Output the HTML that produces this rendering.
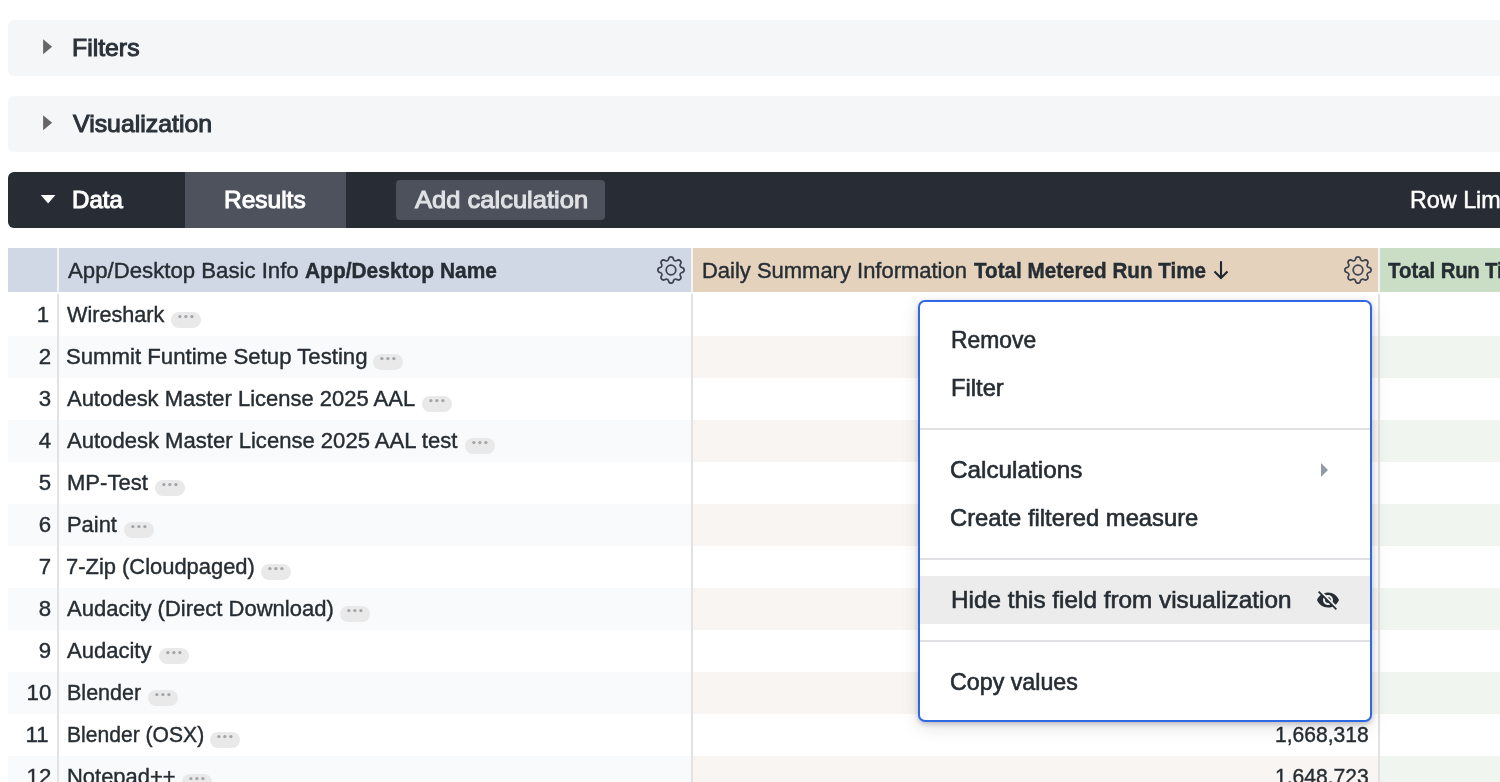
<!DOCTYPE html><html lang="en"><head><meta charset="utf-8"><title>Explore</title><style>
*{box-sizing:border-box;margin:0;padding:0}
html,body{width:1500px;height:782px;overflow:hidden;background:#fff}
#hsep{position:absolute;left:8px;top:248px;width:1492px;height:44px;background:#f4f4f5}
body{font-family:"Liberation Sans",sans-serif;color:#262d33;position:relative}
.t{position:absolute;white-space:nowrap;display:block;transform-origin:0 50%}
.bar{position:absolute;left:8px;width:1500px;height:56px;background:#f5f6f7;border-radius:6px 0 0 6px}
.bar .tri{position:absolute;left:34px;top:18px}
.h{font-weight:normal;-webkit-text-stroke:1px;font-size:23.8px;line-height:56px;color:#2b323a}
#rowlim{left:1402.2px;font-weight:normal;font-size:24.3px;transform:scaleX(.96);-webkit-text-stroke:.5px}
#h3{left:8px;transform:scaleX(.935)}
.arrow{position:absolute;left:520px;top:11.8px}
#databar{background:#282c35;top:172px}
#databar .h{color:#fff}
#dtri{position:absolute;left:32px;top:22px}
#results{position:absolute;left:177px;top:0;width:161px;height:56px;background:#4d525c}
#addcalc{position:absolute;left:388px;top:8px;width:209px;height:40px;background:#4c515c;border-radius:4px}
#addcalc .h{color:#e0e2e5;line-height:39px}
.th{position:absolute;top:248px;height:44px}
.th .t{top:1.3px;line-height:43px;font-size:21.8px;-webkit-text-stroke:.4px;color:#262d33}
.th b{font-weight:bold;-webkit-text-stroke:.15px}
.gear{position:absolute;top:7.7px;fill:#3d444e}
.row{position:absolute;left:8px;width:1492px;height:42px}
.row .c{position:absolute;top:0;height:42px}
.row .t{top:-.4px;line-height:41px;font-size:21.8px;-webkit-text-stroke:.4px}
.c0{left:0;width:49px}
.c1{left:51px;width:632px}
.c2{left:685px;width:685px}
.c3{left:1372px;width:120px}
.row.odd .c0,.row.odd .c1{background:#f9fafb}
.row.odd .c2{background:#f8f5f2}
.row.odd .c3{background:#f0f5ef}
.vline{position:absolute;top:294px;width:2px;height:488px;background:rgba(0,0,0,.115)}
.pill{position:absolute;top:18px}
#menu{position:absolute;left:918px;top:300px;width:454px;height:422px;background:#fff;border:2px solid #3068e3;border-radius:7px;box-shadow:0 2px 5px rgba(0,0,0,.2),0 5px 18px rgba(0,0,0,.12)}
#menu .t{font-size:23.8px;line-height:47px;margin-top:-.3px;-webkit-text-stroke:.6px;color:#262d33}
#menu .div{position:absolute;left:0;width:450px;height:2px;background:#dfe0e4}
#menu .hl{position:absolute;left:0;top:274px;width:450px;height:48px;background:#ececec}
.eye{position:absolute;left:396px;top:286px;fill:#262d33}
#mtri{position:absolute;left:401px;top:161px;width:0;height:0;border-left:7px solid #939aa5;border-top:7px solid transparent;border-bottom:7px solid transparent}
</style></head><body>
<div class="bar" style="top:20px"><svg class="tri" width="12" height="18" viewBox="0 0 12 18"><path d="M1.1 1.3L10.1 8.8L1.1 16.3z" fill="#666"/></svg><span class="t h" style="left:63.96px;transform:scaleX(1.0426);">Filters</span></div>
<div class="bar" style="top:96px"><svg class="tri" width="12" height="18" viewBox="0 0 12 18"><path d="M1.1 1.3L10.1 8.8L1.1 16.3z" fill="#666"/></svg><span class="t h" style="left:64.80px;transform:scaleX(1.0452);">Visualization</span></div>
<div class="bar" id="databar"><svg id="dtri" width="17" height="11" viewBox="0 0 17 11"><path d="M0.8 1.1H15.4L8.1 9.4z" fill="#fff"/></svg><span class="t h" style="left:64.49px;transform:scaleX(1.0114);">Data</span><div id="results"><span class="t h" style="left:38.98px;transform:scaleX(1.0286);">Results</span></div><div id="addcalc"><span class="t h" style="left:18.80px;transform:scaleX(1.0727);">Add calculation</span></div><span class="t h" id="rowlim">Row Limit</span></div>
<div id="hsep"></div>
<div class="th" style="left:8px;width:49px;background:#d0d8e6"></div>
<div class="th" style="left:59px;width:632px;background:#d0d8e6"><span class="t" style="left:8.50px;transform:scaleX(1.0183);">App/Desktop Basic Info</span><b class="t" style="left:245.50px;transform:scaleX(0.9603);">App/Desktop Name</b><svg class="gear" style="left:598px" viewBox="0 0 16 16" width="28" height="28"><path d="M8 4.754a3.246 3.246 0 1 0 0 6.492 3.246 3.246 0 0 0 0-6.492zM5.754 8a2.246 2.246 0 1 1 4.492 0 2.246 2.246 0 0 1-4.492 0z"/><path d="M9.796 1.343c-.527-1.79-3.065-1.79-3.592 0l-.094.319a.873.873 0 0 1-1.255.52l-.292-.16c-1.64-.892-3.433.902-2.54 2.541l.159.292a.873.873 0 0 1-.52 1.255l-.319.094c-1.79.527-1.79 3.065 0 3.592l.319.094a.873.873 0 0 1 .52 1.255l-.16.292c-.892 1.64.901 3.434 2.541 2.54l.292-.159a.873.873 0 0 1 1.255.52l.094.319c.527 1.79 3.065 1.79 3.592 0l.094-.319a.873.873 0 0 1 1.255-.52l.292.16c1.64.893 3.434-.902 2.54-2.541l-.159-.292a.873.873 0 0 1 .52-1.255l.319-.094c1.79-.527 1.79-3.065 0-3.592l-.319-.094a.873.873 0 0 1-.52-1.255l.16-.292c.893-1.64-.902-3.433-2.541-2.54l-.292.159a.873.873 0 0 1-1.255-.52l-.094-.319zm-2.633.283c.246-.835 1.428-.835 1.674 0l.094.319a1.873 1.873 0 0 0 2.693 1.115l.291-.16c.764-.415 1.6.42 1.184 1.185l-.159.292a1.873 1.873 0 0 0 1.116 2.692l.318.094c.835.246.835 1.428 0 1.674l-.319.094a1.873 1.873 0 0 0-1.115 2.693l.16.291c.415.764-.42 1.6-1.185 1.184l-.291-.159a1.873 1.873 0 0 0-2.693 1.116l-.094.318c-.246.835-1.428.835-1.674 0l-.094-.319a1.873 1.873 0 0 0-2.692-1.115l-.292.16c-.764.415-1.6-.42-1.184-1.185l.159-.291A1.873 1.873 0 0 0 1.945 8.93l-.319-.094c-.835-.246-.835-1.428 0-1.674l.319-.094A1.873 1.873 0 0 0 3.06 4.377l-.16-.292c-.415-.764.42-1.6 1.185-1.184l.292.159a1.873 1.873 0 0 0 2.692-1.115l.094-.319z"/></svg></div>
<div class="th" style="left:693px;width:685px;background:#e4d2bd"><span class="t" style="left:8.89px;transform:scaleX(1.0079);">Daily Summary Information</span><b class="t" style="left:281.30px;transform:scaleX(0.9472);">Total Metered Run Time</b><svg class="arrow" viewBox="0 0 16 20" width="16" height="20"><path d="M8 1.2V18 M1.5 11.4L8 17.9L14.5 11.4" fill="none" stroke="#1f2630" stroke-width="2.1"/></svg><svg class="gear" style="left:651px" viewBox="0 0 16 16" width="28" height="28"><path d="M8 4.754a3.246 3.246 0 1 0 0 6.492 3.246 3.246 0 0 0 0-6.492zM5.754 8a2.246 2.246 0 1 1 4.492 0 2.246 2.246 0 0 1-4.492 0z"/><path d="M9.796 1.343c-.527-1.79-3.065-1.79-3.592 0l-.094.319a.873.873 0 0 1-1.255.52l-.292-.16c-1.64-.892-3.433.902-2.54 2.541l.159.292a.873.873 0 0 1-.52 1.255l-.319.094c-1.79.527-1.79 3.065 0 3.592l.319.094a.873.873 0 0 1 .52 1.255l-.16.292c-.892 1.64.901 3.434 2.541 2.54l.292-.159a.873.873 0 0 1 1.255.52l.094.319c.527 1.79 3.065 1.79 3.592 0l.094-.319a.873.873 0 0 1 1.255-.52l.292.16c1.64.893 3.434-.902 2.54-2.541l-.159-.292a.873.873 0 0 1 .52-1.255l.319-.094c1.79-.527 1.79-3.065 0-3.592l-.319-.094a.873.873 0 0 1-.52-1.255l.16-.292c.893-1.64-.902-3.433-2.541-2.54l-.292.159a.873.873 0 0 1-1.255-.52l-.094-.319zm-2.633.283c.246-.835 1.428-.835 1.674 0l.094.319a1.873 1.873 0 0 0 2.693 1.115l.291-.16c.764-.415 1.6.42 1.184 1.185l-.159.292a1.873 1.873 0 0 0 1.116 2.692l.318.094c.835.246.835 1.428 0 1.674l-.319.094a1.873 1.873 0 0 0-1.115 2.693l.16.291c.415.764-.42 1.6-1.185 1.184l-.291-.159a1.873 1.873 0 0 0-2.693 1.116l-.094.318c-.246.835-1.428.835-1.674 0l-.094-.319a1.873 1.873 0 0 0-2.692-1.115l-.292.16c-.764.415-1.6-.42-1.184-1.185l.159-.291A1.873 1.873 0 0 0 1.945 8.93l-.319-.094c-.835-.246-.835-1.428 0-1.674l.319-.094A1.873 1.873 0 0 0 3.06 4.377l-.16-.292c-.415-.764.42-1.6 1.185-1.184l.292.159a1.873 1.873 0 0 0 2.692-1.115l.094-.319z"/></svg></div>
<div class="th" style="left:1380px;width:120px;background:#c9dec5"><b class="t" id="h3">Total <span style="letter-spacing:-.4px">Run</span> Time</b></div>
<div class="row" style="top:294px"><div class="c c0"><span class="t" style="right:8.2px;transform-origin:100% 50%;transform:scaleX(1.02)">1</span></div><div class="c c1"><span class="t" style="left:7.90px;transform:scaleX(0.9929);">Wireshark</span><svg class="pill" style="left:112px" width="30" height="16" viewBox="0 0 30 16"><rect width="30" height="16" rx="8" fill="#e9e9e9"/><g fill="#a3a5aa"><circle cx="8.9" cy="4.6" r="1.65"/><circle cx="14.9" cy="4.6" r="1.65"/><circle cx="20.9" cy="4.6" r="1.65"/></g></svg></div><div class="c c2"></div><div class="c c3"></div></div>
<div class="row odd" style="top:336px"><div class="c c0"><span class="t" style="right:6px;transform-origin:100% 50%;transform:scaleX(1.02)">2</span></div><div class="c c1"><span class="t" style="left:7.40px;transform:scaleX(1.0173);">Summit Funtime Setup Testing</span><svg class="pill" style="left:314px" width="30" height="16" viewBox="0 0 30 16"><rect width="30" height="16" rx="8" fill="#e9e9e9"/><g fill="#a3a5aa"><circle cx="8.9" cy="4.6" r="1.65"/><circle cx="14.9" cy="4.6" r="1.65"/><circle cx="20.9" cy="4.6" r="1.65"/></g></svg></div><div class="c c2"></div><div class="c c3"></div></div>
<div class="row" style="top:378px"><div class="c c0"><span class="t" style="right:6px;transform-origin:100% 50%;transform:scaleX(1.02)">3</span></div><div class="c c1"><span class="t" style="left:7.90px;transform:scaleX(1.0080);">Autodesk Master License 2025 AAL</span><svg class="pill" style="left:363px" width="30" height="16" viewBox="0 0 30 16"><rect width="30" height="16" rx="8" fill="#e9e9e9"/><g fill="#a3a5aa"><circle cx="8.9" cy="4.6" r="1.65"/><circle cx="14.9" cy="4.6" r="1.65"/><circle cx="20.9" cy="4.6" r="1.65"/></g></svg></div><div class="c c2"></div><div class="c c3"></div></div>
<div class="row odd" style="top:420px"><div class="c c0"><span class="t" style="right:6px;transform-origin:100% 50%;transform:scaleX(1.02)">4</span></div><div class="c c1"><span class="t" style="left:7.90px;transform:scaleX(1.0122);">Autodesk Master License 2025 AAL test</span><svg class="pill" style="left:406px" width="30" height="16" viewBox="0 0 30 16"><rect width="30" height="16" rx="8" fill="#e9e9e9"/><g fill="#a3a5aa"><circle cx="8.9" cy="4.6" r="1.65"/><circle cx="14.9" cy="4.6" r="1.65"/><circle cx="20.9" cy="4.6" r="1.65"/></g></svg></div><div class="c c2"></div><div class="c c3"></div></div>
<div class="row" style="top:462px"><div class="c c0"><span class="t" style="right:6px;transform-origin:100% 50%;transform:scaleX(1.02)">5</span></div><div class="c c1"><span class="t" style="left:8.09px;transform:scaleX(1.0118);">MP-Test</span><svg class="pill" style="left:96px" width="30" height="16" viewBox="0 0 30 16"><rect width="30" height="16" rx="8" fill="#e9e9e9"/><g fill="#a3a5aa"><circle cx="8.9" cy="4.6" r="1.65"/><circle cx="14.9" cy="4.6" r="1.65"/><circle cx="20.9" cy="4.6" r="1.65"/></g></svg></div><div class="c c2"></div><div class="c c3"></div></div>
<div class="row odd" style="top:504px"><div class="c c0"><span class="t" style="right:6px;transform-origin:100% 50%;transform:scaleX(1.02)">6</span></div><div class="c c1"><span class="t" style="left:8.09px;transform:scaleX(1.0056);">Paint</span><svg class="pill" style="left:65px" width="30" height="16" viewBox="0 0 30 16"><rect width="30" height="16" rx="8" fill="#e9e9e9"/><g fill="#a3a5aa"><circle cx="8.9" cy="4.6" r="1.65"/><circle cx="14.9" cy="4.6" r="1.65"/><circle cx="20.9" cy="4.6" r="1.65"/></g></svg></div><div class="c c2"></div><div class="c c3"></div></div>
<div class="row" style="top:546px"><div class="c c0"><span class="t" style="right:6px;transform-origin:100% 50%;transform:scaleX(1.02)">7</span></div><div class="c c1"><span class="t" style="left:6.90px;transform:scaleX(1.0057);">7-Zip (Cloudpaged)</span><svg class="pill" style="left:202px" width="30" height="16" viewBox="0 0 30 16"><rect width="30" height="16" rx="8" fill="#e9e9e9"/><g fill="#a3a5aa"><circle cx="8.9" cy="4.6" r="1.65"/><circle cx="14.9" cy="4.6" r="1.65"/><circle cx="20.9" cy="4.6" r="1.65"/></g></svg></div><div class="c c2"></div><div class="c c3"></div></div>
<div class="row odd" style="top:588px"><div class="c c0"><span class="t" style="right:6px;transform-origin:100% 50%;transform:scaleX(1.02)">8</span></div><div class="c c1"><span class="t" style="left:7.90px;transform:scaleX(1.0102);">Audacity (Direct Download)</span><svg class="pill" style="left:281px" width="30" height="16" viewBox="0 0 30 16"><rect width="30" height="16" rx="8" fill="#e9e9e9"/><g fill="#a3a5aa"><circle cx="8.9" cy="4.6" r="1.65"/><circle cx="14.9" cy="4.6" r="1.65"/><circle cx="20.9" cy="4.6" r="1.65"/></g></svg></div><div class="c c2"></div><div class="c c3"></div></div>
<div class="row" style="top:630px"><div class="c c0"><span class="t" style="right:6px;transform-origin:100% 50%;transform:scaleX(1.02)">9</span></div><div class="c c1"><span class="t" style="left:7.90px;transform:scaleX(1.0108);">Audacity</span><svg class="pill" style="left:100px" width="30" height="16" viewBox="0 0 30 16"><rect width="30" height="16" rx="8" fill="#e9e9e9"/><g fill="#a3a5aa"><circle cx="8.9" cy="4.6" r="1.65"/><circle cx="14.9" cy="4.6" r="1.65"/><circle cx="20.9" cy="4.6" r="1.65"/></g></svg></div><div class="c c2"></div><div class="c c3"></div></div>
<div class="row odd" style="top:672px"><div class="c c0"><span class="t" style="right:6px;transform-origin:100% 50%;transform:scaleX(1.02)">10</span></div><div class="c c1"><span class="t" style="left:8.11px;transform:scaleX(0.9869);">Blender</span><svg class="pill" style="left:89px" width="30" height="16" viewBox="0 0 30 16"><rect width="30" height="16" rx="8" fill="#e9e9e9"/><g fill="#a3a5aa"><circle cx="8.9" cy="4.6" r="1.65"/><circle cx="14.9" cy="4.6" r="1.65"/><circle cx="20.9" cy="4.6" r="1.65"/></g></svg></div><div class="c c2"></div><div class="c c3"></div></div>
<div class="row" style="top:714px"><div class="c c0"><span class="t" style="right:8.4px;transform-origin:100% 50%;transform:scaleX(1.02)">11</span></div><div class="c c1"><span class="t" style="left:8.13px;transform:scaleX(0.9679);">Blender (OSX)</span><svg class="pill" style="left:151px" width="30" height="16" viewBox="0 0 30 16"><rect width="30" height="16" rx="8" fill="#e9e9e9"/><g fill="#a3a5aa"><circle cx="8.9" cy="4.6" r="1.65"/><circle cx="14.9" cy="4.6" r="1.65"/><circle cx="20.9" cy="4.6" r="1.65"/></g></svg></div><div class="c c2"><span class="t" style="left:582.03px;transform:scaleX(0.9672);">1,668,318</span></div><div class="c c3"></div></div>
<div class="row odd" style="top:756px"><div class="c c0"><span class="t" style="right:6px;transform-origin:100% 50%;transform:scaleX(1.02)">12</span></div><div class="c c1"><span class="t" style="left:8.09px;transform:scaleX(1.0062);">Notepad++</span><svg class="pill" style="left:123px" width="30" height="16" viewBox="0 0 30 16"><rect width="30" height="16" rx="8" fill="#e9e9e9"/><g fill="#a3a5aa"><circle cx="8.9" cy="4.6" r="1.65"/><circle cx="14.9" cy="4.6" r="1.65"/><circle cx="20.9" cy="4.6" r="1.65"/></g></svg></div><div class="c c2"><span class="t" style="left:582.03px;transform:scaleX(0.9672);">1,648,723</span></div><div class="c c3"></div></div>
<div class="vline" style="left:57px"></div><div class="vline" style="left:691px"></div><div class="vline" style="left:1378px"></div>
<div id="menu">
<div class="hl"></div>
<span class="t" style="left:31.05px;transform:scaleX(0.9611);top:14px">Remove</span>
<span class="t" style="left:31.01px;transform:scaleX(0.9974);top:62px">Filter</span>
<span class="t" style="left:29.99px;transform:scaleX(1.0206);top:144px">Calculations</span>
<span class="t" style="left:30.31px;transform:scaleX(0.9986);top:192px">Create filtered measure</span>
<span class="t" style="left:30.98px;transform:scaleX(1.0216);top:274px">Hide this field from visualization</span>
<span class="t" style="left:30.23px;transform:scaleX(0.9766);top:356px">Copy values</span>
<div class="div" style="top:126px"></div>
<div class="div" style="top:256px"></div>
<div class="div" style="top:338px"></div>
<div id="mtri"></div><svg class="eye" viewBox="0 0 24 24" width="24" height="24"><path d="M12 7c2.76 0 5 2.24 5 5 0 .65-.13 1.26-.36 1.83l2.92 2.92c1.51-1.26 2.7-2.89 3.43-4.75-1.73-4.39-6-7.5-11-7.5-1.4 0-2.74.25-3.98.7l2.16 2.16C10.74 7.13 11.35 7 12 7zM2 4.27l2.28 2.28.46.46C3.08 8.3 1.78 10.02 1 12c1.73 4.39 6 7.5 11 7.5 1.55 0 3.03-.3 4.38-.84l.42.42L19.73 22 21 20.73 3.27 3 2 4.27zM7.53 9.8l1.55 1.55c-.05.21-.08.43-.08.65 0 1.66 1.34 3 3 3 .22 0 .44-.03.65-.08l1.55 1.55c-.67.33-1.41.53-2.2.53-2.76 0-5-2.24-5-5 0-.79.2-1.53.53-2.2zm4.31-.78l3.15 3.15.02-.16c0-1.66-1.34-3-3-3l-.17.01z"/></svg>
</div>
</body></html>
